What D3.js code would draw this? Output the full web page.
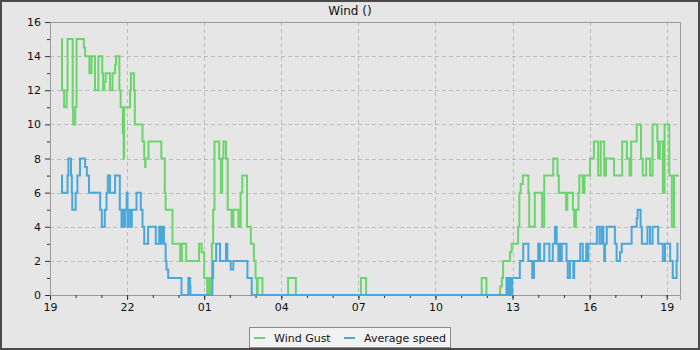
<!DOCTYPE html>
<html>
<head>
<meta charset="utf-8">
<script src="https://cdn.jsdelivr.net/npm/d3@7"></script>
<style>
	body { margin: 0; background: #e6e6e6; }
	svg { display: block; font-family: "DejaVu Sans", sans-serif; }
</style>
</head>
<body>
<div id="chart"></div>
<script>
// change points: [clock time, value]; the clock rolls over past midnight
var gustData = [
	["19:27", 15], ["19:28", 12], ["19:33", 11], ["19:39", 12], ["19:41", 15],
	["19:53", 11], ["19:54", 10], ["19:59", 11], ["20:02", 15], ["20:19", 14.5],
	["20:22", 14], ["20:32", 13], ["20:37", 14], ["20:45", 12], ["20:53", 14],
	["21:02", 13], ["21:04", 12], ["21:07", 12.5], ["21:10", 13], ["21:20", 12],
	["21:26", 13], ["21:32", 13.5], ["21:34", 14], ["21:42", 12], ["21:45", 11],
	["21:50", 9.5], ["21:52", 8], ["21:53", 11], ["22:07", 12], ["22:09", 13],
	["22:16", 12], ["22:18", 10], ["22:36", 9], ["22:40", 8], ["22:42", 7.5],
	["22:43", 8], ["22:50", 9], ["23:20", 8], ["23:28", 6], ["23:30", 5],
	["23:46", 3], ["00:04", 2], ["00:08", 3], ["00:18", 2], ["00:48", 3],
	["00:54", 2.5], ["01:00", 1], ["01:07", 0], ["01:10", 1], ["01:12", 0],
	["01:15", 1], ["01:18", 3], ["01:21", 5], ["01:24", 9], ["01:35", 8],
	["01:39", 6], ["01:42", 8], ["01:45", 9], ["01:51", 8], ["01:55", 5],
	["02:04", 4], ["02:08", 5], ["02:20", 4], ["02:25", 6], ["02:29", 7],
	["02:40", 4], ["02:49", 3], ["02:56", 2], ["03:00", 1], ["03:03", 0],
	["03:05", 1], ["03:16", 0], ["04:16", 1], ["04:34", 0], ["07:06", 1],
	["07:18", 0], ["11:48", 1], ["11:59", 0], ["12:31", 0.5], ["12:35", 1],
	["12:38", 2], ["12:54", 2.5], ["12:58", 3], ["13:13", 4], ["13:16", 6],
	["13:19", 6.5], ["13:24", 7], ["13:37", 6], ["13:39", 4], ["13:52", 6],
	["14:09", 4], ["14:14", 7], ["14:35", 8], ["14:45", 7], ["14:48", 6],
	["15:05", 5], ["15:08", 6], ["15:21", 5], ["15:24", 4], ["15:28", 5],
	["15:34", 6], ["15:36", 7], ["15:44", 6], ["15:48", 7], ["16:01", 8],
	["16:10", 9], ["16:20", 7], ["16:26", 9], ["16:34", 7], ["16:38", 8],
	["16:57", 7], ["17:16", 9], ["17:27", 8], ["17:33", 7], ["17:37", 9],
	["17:50", 10], ["18:00", 8], ["18:04", 7], ["18:12", 8], ["18:21", 7],
	["18:27", 10], ["18:38", 9], ["18:40", 8], ["18:44", 9], ["18:51", 6],
	["18:55", 10], ["19:06", 7], ["19:12", 4], ["19:17", 7], ["19:28", 7]
];

var avgData = [
	["19:27", 7], ["19:28", 6], ["19:41", 7], ["19:43", 8], ["19:49", 7],
	["19:51", 6], ["19:52", 5], ["20:00", 6], ["20:04", 7], ["20:10", 8],
	["20:22", 7.5], ["20:26", 7], ["20:31", 6], ["20:57", 5], ["21:01", 4],
	["21:08", 5], ["21:12", 6], ["21:15", 7], ["21:20", 6], ["21:32", 7],
	["21:43", 5], ["21:47", 4], ["21:51", 5], ["21:53", 4], ["21:55", 5],
	["21:59", 6], ["22:01", 4], ["22:04", 5], ["22:09", 4], ["22:11", 5],
	["22:22", 6], ["22:32", 5], ["22:36", 4], ["22:40", 3], ["22:49", 4],
	["23:07", 3], ["23:15", 4], ["23:18", 3], ["23:19", 4], ["23:22", 3],
	["23:24", 4], ["23:26", 3], ["23:30", 2], ["23:32", 1.5], ["23:36", 1],
	["00:07", 0], ["00:23", 1], ["00:27", 0.5], ["00:28", 0], ["01:19", 1],
	["01:21", 2], ["01:28", 3], ["01:37", 2], ["01:51", 3], ["01:54", 2],
	["02:02", 1.5], ["02:08", 2], ["02:41", 1], ["02:51", 0], ["12:46", 1],
	["12:49", 0], ["12:51", 1], ["12:53", 0], ["12:56", 1], ["12:57", 0],
	["12:59", 1], ["13:17", 2], ["13:25", 3], ["13:37", 2], ["13:46", 1],
	["13:50", 2], ["14:00", 3], ["14:04", 2], ["14:14", 3], ["14:26", 2],
	["14:34", 3], ["14:39", 4], ["14:43", 3], ["14:47", 2], ["14:49", 3],
	["14:52", 2], ["14:55", 3], ["15:06", 2], ["15:09", 1], ["15:14", 2],
	["15:22", 1], ["15:24", 2], ["15:38", 3], ["15:44", 2], ["15:52", 3],
	["15:55", 2], ["15:57", 3], ["16:17", 4], ["16:23", 3], ["16:28", 4],
	["16:32", 3], ["16:34", 2], ["16:36", 3], ["16:40", 4], ["16:59", 3],
	["17:03", 2], ["17:11", 2.5], ["17:15", 3], ["17:38", 4], ["17:50", 4.5],
	["17:52", 5], ["17:59", 4], ["18:02", 3], ["18:15", 4], ["18:21", 3],
	["18:27", 4], ["18:40", 3], ["18:51", 2], ["18:56", 3], ["19:08", 2],
	["19:14", 1], ["19:23", 2], ["19:25", 3], ["19:28", 3]
];

var seriesNames = ["Wind Gust", "Average speed"];
var seriesColors = ["#6cd46c", "#4aa7da"];
var yTicks = [0, 2, 4, 6, 8, 10, 12, 14, 16];

function toSeries(rows) {
	var day = 0, prev = -1;
	return rows.map(function (r) {
		var hm = r[0].split(":").map(Number);
		var mins = hm[0] * 60 + hm[1];
		if (mins < prev) day++;
		prev = mins;
		return { date: new Date(2024, 0, 1 + day, hm[0], hm[1]), value: r[1] };
	});
}

var width = 700, height = 350;
var margin = { top: 22, right: 20, bottom: 55, left: 50 };

var svg = d3.select("#chart").append("svg")
	.attr("width", width)
	.attr("height", height);

svg.append("rect")
	.attr("x", 1).attr("y", 1)
	.attr("width", width - 2).attr("height", height - 2)
	.attr("fill", "#e6e6e6")
	.attr("stroke", "#4a4a4a")
	.attr("stroke-width", 2);

svg.append("text")
	.attr("x", width / 2)
	.attr("y", 15)
	.attr("text-anchor", "middle")
	.attr("font-size", 12)
	.attr("fill", "#111")
	.text("Wind ()");

var start = new Date(2024, 0, 1, 19, 0);
var end = new Date(2024, 0, 2, 19, 31);

var x = d3.scaleTime()
	.domain([start, end])
	.range([margin.left, width - margin.right]);

var y = d3.scaleLinear()
	.domain([0, 16])
	.range([height - margin.bottom, margin.top]);

var majorX = d3.timeHour.range(start, end, 3);
var minorX = d3.timeHour.range(start, end);

// grid
var grid = svg.append("g")
	.attr("stroke", "#bdbdbd")
	.attr("stroke-dasharray", "4,3")
	.attr("shape-rendering", "crispEdges");

grid.selectAll(".gx")
	.data(majorX.slice(1))
	.enter().append("line")
	.attr("x1", function (d) { return Math.round(x(d)) + 0.5; })
	.attr("x2", function (d) { return Math.round(x(d)) + 0.5; })
	.attr("y1", margin.top)
	.attr("y2", height - margin.bottom);

grid.selectAll(".gy")
	.data(yTicks.slice(1, -1))
	.enter().append("line")
	.attr("x1", margin.left)
	.attr("x2", width - margin.right)
	.attr("y1", function (d) { return Math.round(y(d)) + 0.5; })
	.attr("y2", function (d) { return Math.round(y(d)) + 0.5; });

// frame top / right
svg.append("path")
	.attr("d", "M" + margin.left + "," + (margin.top + 0.5) + "H" + (width - margin.right + 0.5) + "V" + (height - margin.bottom))
	.attr("fill", "none")
	.attr("stroke", "#999");

// axes
var xAxis = svg.append("g")
	.attr("transform", "translate(0," + (height - margin.bottom) + ")")
	.call(d3.axisBottom(x).tickValues(majorX).tickFormat(d3.timeFormat("%H")).tickSize(5).tickPadding(3));

svg.append("g")
	.attr("transform", "translate(0," + (height - margin.bottom) + ")")
	.call(d3.axisBottom(x).tickValues(minorX).tickFormat("").tickSize(3))
	.call(function (g) { g.select(".domain").remove(); });

var yAxis = svg.append("g")
	.attr("transform", "translate(" + margin.left + ",0)")
	.call(d3.axisLeft(y).tickValues(yTicks).tickSize(5).tickPadding(4));

svg.append("g")
	.attr("transform", "translate(" + margin.left + ",0)")
	.call(d3.axisLeft(y).tickValues(d3.range(1, 16, 2)).tickFormat("").tickSize(3))
	.call(function (g) { g.select(".domain").remove(); });

svg.selectAll(".domain").attr("stroke", "#999");
svg.selectAll(".tick line").attr("stroke", "#333");
svg.selectAll(".tick text").attr("font-size", 11).attr("fill", "#111").attr("font-family", "DejaVu Sans, sans-serif");

// series
var line = d3.line()
	.curve(d3.curveStepAfter)
	.x(function (d) { return x(d.date); })
	.y(function (d) { return y(d.value); });

var allSeries = [toSeries(gustData), toSeries(avgData)];

svg.selectAll(".series")
	.data(allSeries)
	.enter().append("path")
	.attr("fill", "none")
	.attr("stroke", function (d, i) { return seriesColors[i]; })
	.attr("stroke-width", 2)
	.attr("d", line);

// legend
var legend = svg.append("g");
legend.append("rect")
	.attr("x", 249.5).attr("y", 327.5)
	.attr("width", 201).attr("height", 20)
	.attr("fill", "#f2f2f2")
	.attr("stroke", "#8a8a8a");

var legendX = [254, 344];
seriesNames.forEach(function (name, i) {
	legend.append("line")
		.attr("x1", legendX[i]).attr("x2", legendX[i] + 11)
		.attr("y1", 338).attr("y2", 338)
		.attr("stroke", seriesColors[i])
		.attr("stroke-width", 2);
	legend.append("text")
		.attr("x", legendX[i] + 20)
		.attr("y", 342)
		.attr("font-size", 11)
		.attr("fill", "#111")
		.text(name);
});
</script>
</body>
</html>
